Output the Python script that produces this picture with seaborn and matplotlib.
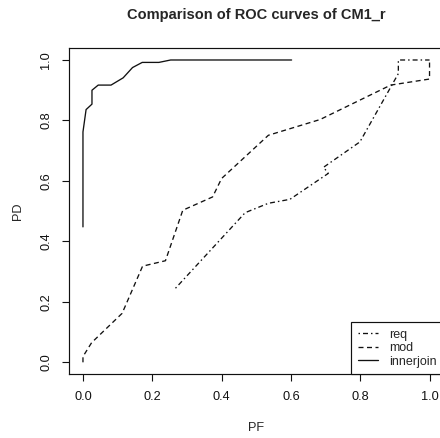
#!/usr/bin/env python3

import pandas as pd
import matplotlib
matplotlib.use("Agg")
import matplotlib.pyplot as plt
import seaborn as sns

# --- data ---
req_pf = [0.267, 0.468, 0.535, 0.597, 0.708, 0.694, 0.799, 0.910, 0.910, 1.0]
req_pd = [0.245, 0.495, 0.526, 0.539, 0.625, 0.645, 0.729, 0.955, 1.0, 1.0]

mod_pf = [0.0, 0.0, 0.025, 0.113, 0.172, 0.238, 0.288, 0.374, 0.400, 0.535, 0.684, 0.888, 1.0, 1.0]
mod_pd = [0.0, 0.019, 0.065, 0.162, 0.318, 0.336, 0.503, 0.547, 0.608, 0.751, 0.803, 0.917, 0.937, 1.0]

inner_pf = [0.0, 0.0, 0.009, 0.026, 0.026, 0.044, 0.081, 0.116, 0.143, 0.171, 0.219, 0.253, 0.602]
inner_pd = [0.448, 0.762, 0.836, 0.854, 0.900, 0.917, 0.917, 0.941, 0.975, 0.992, 0.992, 1.0, 1.0]

curve_names = ["req", "mod", "innerjoin"]
tick_vals = [0.0, 0.2, 0.4, 0.6, 0.8, 1.0]

sns.set_style("ticks")
plt.rcParams['font.family'] = ['Liberation Sans', 'DejaVu Sans']
plt.rcParams['lines.scale_dashes'] = False

px = 0.72  # one pixel in points at dpi 100
styles = {
    "req": (0, (1.5 * px, 3 * px, 5 * px, 3 * px)),
    "mod": (0, (5 * px, 3.5 * px)),
    "innerjoin": "-",
}

fig = plt.figure(figsize=(4.4, 4.38), dpi=100)
ax = fig.add_axes([69.1 / 440, 1 - 374.4 / 438, 374.3 / 440, 326.5 / 438])

curves = {"req": (req_pf, req_pd), "mod": (mod_pf, mod_pd), "innerjoin": (inner_pf, inner_pd)}
for name in curve_names:
    d = pd.DataFrame({"PF": curves[name][0], "PD": curves[name][1]})
    sns.lineplot(data=d, x="PF", y="PD", ax=ax, sort=False, estimator=None,
                 color="#111111", linewidth=0.95, linestyle=styles[name], label=name)

ax.set_xlim(-0.04, 1.04)
ax.set_ylim(-0.04, 1.04)
ax.set_xticks(tick_vals)
ax.set_yticks(tick_vals)
ax.set_xticklabels([f"{v:.1f}" for v in tick_vals])
ax.set_yticklabels([f"{v:.1f}" for v in tick_vals], rotation=90, va="center")
ax.tick_params(direction="out", length=5, width=0.8, pad=7, labelsize=9.2, colors="#111111")

for sp in ax.spines.values():
    sp.set_linewidth(0.85)
    sp.set_color("#111111")

ax.set_xlabel("PF", fontsize=9.2)
ax.set_ylabel("PD", fontsize=9.2)
ax.xaxis.set_label_coords(0.5, (374.4 - 428) / 326.5)
ax.xaxis.label.set_va("center")
ax.yaxis.set_label_coords((18 - 69.1) / 374.3, 0.5)
ax.yaxis.label.set_va("center")

ax.text(0.5, (374.4 - 15) / 326.5, "Comparison of ROC curves of CM1_r",
        transform=ax.transAxes, ha="center", va="center",
        fontsize=10.5, fontweight="bold")

leg = ax.legend(loc="lower right", bbox_to_anchor=(1.0, 0.0), borderaxespad=0,
                fancybox=False, framealpha=1, edgecolor="#111111", fontsize=9.0,
                handlelength=1.6, handletextpad=0.9, labelspacing=0.12, borderpad=0.55)
leg.get_frame().set_linewidth(0.85)

plt.savefig("out.png", dpi=100)
plt.close()
